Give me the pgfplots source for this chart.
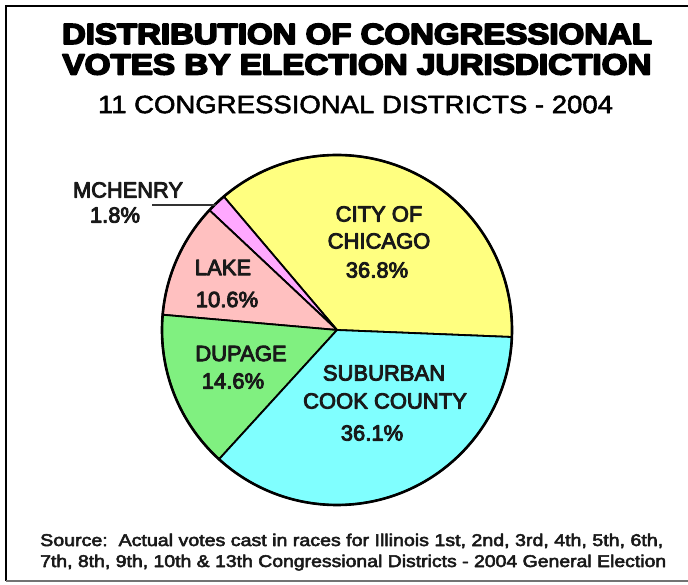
\documentclass[border=0pt]{standalone}
\usepackage{graphicx}
\usepackage{pgfplots}
\pgfplotsset{compat=1.18}
\usepackage{pgfplotstable}
\usepackage{fontspec}
\setmainfont{Liberation Sans}

\definecolor{chicago}{RGB}{255,255,128}
\definecolor{suburb}{RGB}{128,255,255}
\definecolor{dupage}{RGB}{128,240,128}
\definecolor{lake}{RGB}{255,192,192}
\definecolor{mchenry}{RGB}{255,168,255}
\definecolor{txt}{RGB}{25,25,25}
% stroke + fill text rendering (one text, heavier strokes)
\newcommand\heavy[2]{\special{pdf:literal direct #1 w 1 j 2 Tr}#2\special{pdf:literal direct 0 Tr}}

\pgfplotstableread{
name value
Chicago 36.8
McHenry 1.8
Lake 10.6
DuPage 14.6
Suburban 36.1
}\piedata
\pgfplotstablegetelem{0}{value}\of\piedata \let\vA\pgfplotsretval
\pgfplotstablegetelem{1}{value}\of\piedata \let\vB\pgfplotsretval
\pgfplotstablegetelem{2}{value}\of\piedata \let\vC\pgfplotsretval
\pgfplotstablegetelem{3}{value}\of\piedata \let\vD\pgfplotsretval
\pgfplotstablegetelem{4}{value}\of\piedata \let\vE\pgfplotsretval
\pgfmathsetmacro\total{\vA+\vB+\vC+\vD+\vE}
\pgfmathsetmacro\aA{-2.3}
\pgfmathsetmacro\aB{\aA+360*\vA/\total}
\pgfmathsetmacro\aC{\aB+360*\vB/\total}
\pgfmathsetmacro\aD{\aC+360*\vC/\total}
\pgfmathsetmacro\aE{\aD+360*\vD/\total}
\pgfmathsetmacro\aF{\aE+360*\vE/\total}

\begin{document}%
\begin{tikzpicture}
\path[use as bounding box, fill=white] (0pt,0pt) rectangle (688pt,584pt);
% frame
\draw[black, line width=2.5pt] (6pt,3pt) -- (6pt,578pt) -- (688pt,578pt);
\draw[black!55, line width=1.5pt] (6pt,3pt) -- (688pt,3pt);

\begin{axis}[
  hide axis, scale only axis,
  width=350pt, height=350pt,
  xmin=-1, xmax=1, ymin=-1, ymax=1,
  at={(337pt,254pt)}, anchor=center,
  clip=false]
\filldraw[fill=chicago, draw=black, line width=1.8pt, line join=round]
  (axis cs:0,0) -- ++(\aA:175pt) arc[start angle=\aA, end angle=\aB, radius=175pt] -- cycle;
\filldraw[fill=mchenry, draw=black, line width=1.8pt, line join=round]
  (axis cs:0,0) -- ++(\aB:175pt) arc[start angle=\aB, end angle=\aC, radius=175pt] -- cycle;
\filldraw[fill=lake, draw=black, line width=1.8pt, line join=round]
  (axis cs:0,0) -- ++(\aC:175pt) arc[start angle=\aC, end angle=\aD, radius=175pt] -- cycle;
\filldraw[fill=dupage, draw=black, line width=1.8pt, line join=round]
  (axis cs:0,0) -- ++(\aD:175pt) arc[start angle=\aD, end angle=\aE, radius=175pt] -- cycle;
\filldraw[fill=suburb, draw=black, line width=1.8pt, line join=round]
  (axis cs:0,0) -- ++(\aE:175pt) arc[start angle=\aE, end angle=\aF, radius=175pt] -- cycle;
\draw[black, line width=2.6pt] (axis cs:0,0) circle[radius=175pt];
\end{axis}

% titles
\node[inner sep=0pt, text=black, font=\bfseries\fontsize{29}{29}\selectfont]
  at (357pt,550pt) {\resizebox{590pt}{\height}{\heavy{1.6}{DISTRIBUTION OF CONGRESSIONAL}}};
\node[inner sep=0pt, text=black, font=\bfseries\fontsize{29}{29}\selectfont]
  at (357pt,519.5pt) {\resizebox{589pt}{\height}{\heavy{1.6}{VOTES BY ELECTION JURISDICTION}}};
\node[inner sep=0pt, text=black, font=\fontsize{25}{25}\selectfont]
  at (355.5pt,479.5pt) {\resizebox{515pt}{\height}{\heavy{0.5}{11 CONGRESSIONAL DISTRICTS - 2004}}};

% slice labels
\begin{scope}[every node/.style={inner sep=0pt, text=txt, font=\fontsize{22}{22}\selectfont}]
\node at (379pt,370pt) {\heavy{0.9}{CITY OF}};
\node at (379pt,343pt) {\heavy{0.9}{CHICAGO}};
\node at (377pt,314pt) {\heavy{0.9}{36.8\%}};
\node at (384pt,211pt) {\heavy{0.9}{SUBURBAN}};
\node at (385pt,183pt) {\heavy{0.9}{COOK COUNTY}};
\node at (372pt,151pt) {\heavy{0.9}{36.1\%}};
\node at (241pt,230.5pt) {\heavy{0.9}{DUPAGE}};
\node at (233pt,203pt) {\heavy{0.9}{14.6\%}};
\node at (223pt,316.5pt) {\heavy{0.9}{LAKE}};
\node at (227pt,284.5pt) {\heavy{0.9}{10.6\%}};
\node at (128pt,394pt) {\resizebox{110pt}{\height}{\heavy{0.9}{MCHENRY}}};
\node at (115pt,369pt) {\heavy{0.9}{1.8\%}};
\end{scope}
\draw[black!80, line width=1.5pt] (152pt,379pt) -- (216pt,379pt);

% source
\node[inner sep=0pt, anchor=base west, text=txt, font=\fontsize{17}{17}\selectfont]
  at (40pt,38pt) {\resizebox{623pt}{\height}{\heavy{0.5}{Source:\ \ Actual votes cast in races for Illinois 1st, 2nd, 3rd, 4th, 5th, 6th,}}};
\node[inner sep=0pt, anchor=base west, text=txt, font=\fontsize{17}{17}\selectfont]
  at (40pt,17pt) {\resizebox{626pt}{\height}{\heavy{0.5}{7th, 8th, 9th, 10th \& 13th Congressional Districts - 2004 General Election}}};
\end{tikzpicture}%
\end{document}
